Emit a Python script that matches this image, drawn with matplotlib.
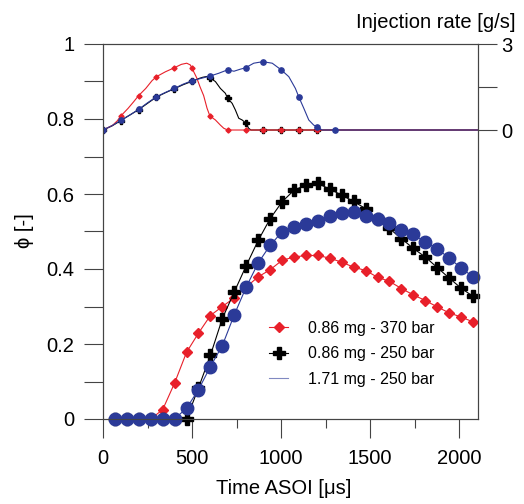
import matplotlib
matplotlib.use("Agg")
import matplotlib.pyplot as plt
import numpy as np
from matplotlib.lines import Line2D

plt.rcParams['font.family'] = ['Liberation Sans', 'DejaVu Sans']

# equivalence ratio, one value per camera frame
times = [67, 134, 201, 268, 335, 402, 469, 536, 603, 670, 737, 804, 871, 938, 1005, 1072,
         1139, 1206, 1273, 1340, 1407, 1474, 1541, 1608, 1675, 1742, 1809, 1876, 1943, 2010, 2077]
phi_370 = [0, 0, 0, 0, 0.025, 0.096, 0.178, 0.229, 0.276, 0.300, 0.323, 0.352, 0.379, 0.398,
           0.423, 0.432, 0.436, 0.436, 0.429, 0.418, 0.405, 0.396, 0.378, 0.367, 0.348, 0.331,
           0.316, 0.299, 0.283, 0.272, 0.259]
phi_250 = [0, 0, 0, 0, 0, 0, 0, 0.083, 0.170, 0.268, 0.339, 0.409, 0.476, 0.534, 0.579, 0.610,
           0.624, 0.628, 0.613, 0.597, 0.580, 0.561, 0.532, 0.508, 0.481, 0.455, 0.432, 0.404,
           0.376, 0.349, 0.327]
phi_171 = [0, 0, 0, 0, 0, 0, 0.029, 0.078, 0.140, 0.196, 0.278, 0.352, 0.416, 0.463, 0.499,
           0.511, 0.520, 0.527, 0.540, 0.548, 0.551, 0.542, 0.534, 0.523, 0.505, 0.492, 0.472,
           0.454, 0.429, 0.403, 0.379]

# injection rate traces [g/s]
inj_t_370 = [0, 30, 55, 80, 100, 140, 170, 200, 240, 275, 300, 350, 400, 440, 470, 490, 500,
             526, 545, 565, 584, 600, 631, 659, 678, 700, 800, 900, 1000, 1100, 1200, 2105]
inj_r_370 = [0, 0.09, 0.17, 0.32, 0.49, 0.75, 0.97, 1.20, 1.45, 1.72, 1.86, 2.03, 2.17, 2.29,
             2.33, 2.27, 2.15, 1.82, 1.50, 1.20, 0.76, 0.49, 0.35, 0.17, 0.06, 0, 0, 0, 0, 0, 0, 0]
inj_t_250 = [0, 50, 100, 150, 200, 250, 300, 350, 400, 450, 500, 535, 560, 585, 600, 631, 659,
             687, 700, 725, 743, 762, 781, 800, 818, 830, 900, 1000, 1100, 1200, 2105]
inj_r_250 = [0, 0.14, 0.33, 0.52, 0.71, 0.93, 1.15, 1.30, 1.44, 1.58, 1.70, 1.79, 1.84, 1.87,
             1.82, 1.69, 1.45, 1.28, 1.10, 0.93, 0.70, 0.41, 0.35, 0.25, 0.06, 0, 0, 0, 0, 0, 0]
inj_t_171 = [0, 50, 100, 150, 200, 250, 300, 350, 400, 450, 500, 550, 600, 650, 700, 735, 770,
             800, 846, 874, 900, 950, 1000, 1043, 1080, 1100, 1127, 1155, 1183, 1200, 1230,
             1300, 2105]
inj_r_171 = [0, 0.15, 0.34, 0.52, 0.72, 0.95, 1.16, 1.31, 1.45, 1.60, 1.72, 1.80, 1.88, 1.98,
             2.10, 2.05, 2.12, 2.17, 2.33, 2.36, 2.38, 2.33, 2.10, 1.86, 1.45, 1.14, 0.76, 0.35,
             0.17, 0.12, 0, 0, 0]

labels = ['0.86 mg - 370 bar', '0.86 mg - 250 bar', '1.71 mg - 250 bar']
red = '#e8202a'
blue = '#2b3a98'
axcol = '#444444'


def marks(t, last):
    # marker every 100 us on the rate traces
    return [i for i, v in enumerate(t) if v % 100 == 0 and v <= last]


fig = plt.figure(figsize=(5.24, 5.04), dpi=100)
ax = fig.add_axes([103 / 524, 85 / 504, 375 / 524, 375 / 504])
ax.set_xlim(0, 2105)
ax.set_ylim(0, 1)

ax.plot(times, phi_370, color=red, lw=0.8, marker='D', ms=5.3, mec=red, mfc=red, clip_on=False, zorder=3)
ax.plot(times, phi_250, color='black', lw=0.8, marker='P', ms=8.2, mec='black', mfc='black', clip_on=False, zorder=4)
ax.plot(times, phi_171, color=blue, lw=0.8, marker='o', ms=9.0, mec=blue, mfc=blue, clip_on=False, zorder=5)

ax.set_xticks([0, 500, 1000, 1500, 2000])
ax.set_xticks([250, 750, 1250, 1750], minor=True)
ax.set_yticks([0, 0.2, 0.4, 0.6, 0.8, 1.0])
ax.set_yticklabels(['0', '0.2', '0.4', '0.6', '0.8', '1'])
ax.set_yticks([0.1, 0.3, 0.5, 0.7, 0.9], minor=True)
ax.tick_params(axis='both', which='major', direction='out', length=13.7, width=0.8,
               color=axcol, labelsize=14.5)
ax.tick_params(axis='x', which='major', pad=8)
ax.tick_params(axis='y', which='major', pad=7)
ax.tick_params(axis='x', which='minor', direction='out', length=6.5, width=0.8, color=axcol)
ax.tick_params(axis='y', which='minor', direction='out', length=13.7, width=0.8, color=axcol)
for s in ax.spines.values():
    s.set_color(axcol)
    s.set_linewidth(0.8)

ax2 = ax.twinx()
ax2.set_ylim(-10.08, 3)
ax2.plot(inj_t_250, inj_r_250, color='black', lw=0.8, marker='P', ms=4.2,
         markevery=marks(inj_t_250, 1200))
ax2.plot(inj_t_370, inj_r_370, color=red, lw=0.8, marker='D', ms=2.6,
         markevery=marks(inj_t_370, 1200))
ax2.plot(inj_t_171, inj_r_171, color=blue, lw=0.8, marker='o', ms=3.8,
         markevery=marks(inj_t_171, 1300))
ax2.set_yticks([0, 1.5, 3])
ax2.set_yticklabels(['0', '', '3'])
ax2.tick_params(axis='y', direction='out', length=13.7, width=0.8, color=axcol,
                labelsize=14.5, pad=3)
for s in ax2.spines.values():
    s.set_color(axcol)
    s.set_linewidth(0.8)

handles = [Line2D([], [], color=red, lw=0.8, marker='D', ms=5.3),
           Line2D([], [], color='black', lw=0.8, marker='P', ms=8.2),
           Line2D([], [], color=blue, lw=0.8, alpha=0.6)]
ax2.legend(handles, labels, loc='upper left', bbox_to_anchor=(0.443, 0.262),
           frameon=False, fontsize=11.5, handlelength=1.2, handletextpad=1.25,
           labelspacing=0.65, borderpad=0, borderaxespad=0)

fig.text(284 / 524, 1 - 494 / 504, 'Time ASOI [μs]', ha='center', va='baseline', fontsize=14.5)
fig.text(25 / 524, 1 - 231 / 504, 'ϕ [-]', ha='center', va='center', rotation=90, fontsize=14.5)
fig.text(516 / 524, 1 - 28 / 504, 'Injection rate [g/s]', ha='right', va='baseline', fontsize=14.5)

fig.savefig('out.png', dpi=100)
